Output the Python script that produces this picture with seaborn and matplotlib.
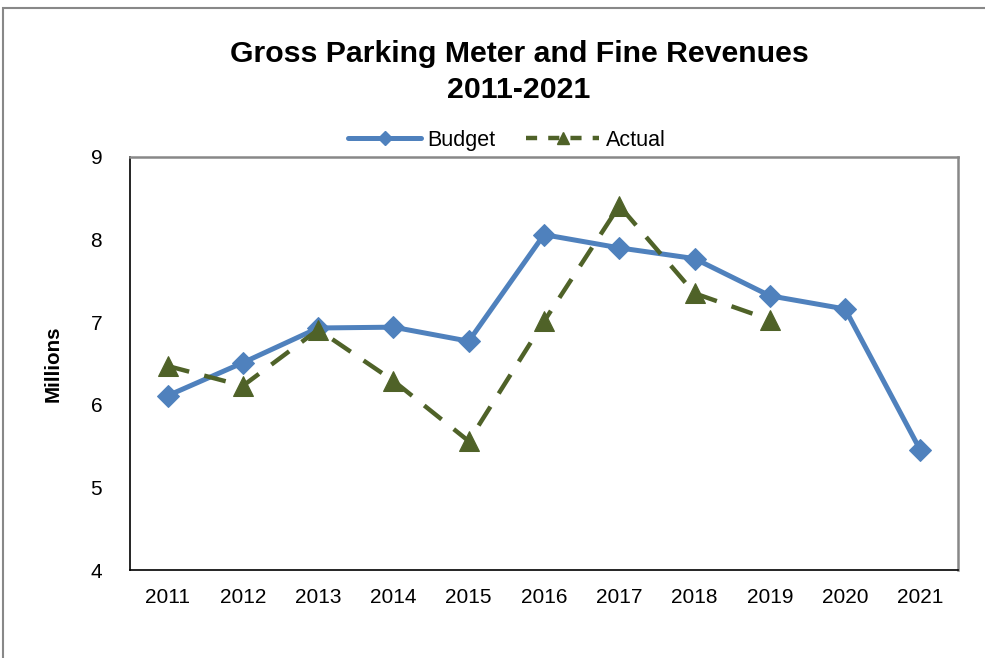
import matplotlib.pyplot as plt
from matplotlib.lines import Line2D
import numpy as np
import pandas as pd
import seaborn as sns

sns.set_style('white')
plt.rcParams['font.family'] = ['Liberation Sans', 'DejaVu Sans']
plt.rcParams['text.color'] = 'black'
plt.rcParams['axes.labelcolor'] = 'black'
plt.rcParams['xtick.color'] = 'black'
plt.rcParams['ytick.color'] = 'black'

## chart values
years = ['2011', '2012', '2013', '2014', '2015', '2016', '2017', '2018', '2019', '2020', '2021']
budget = [6.11, 6.51, 6.93, 6.94, 6.77, 8.06, 7.90, 7.77, 7.32, 7.16, 5.45]
actual = [6.47, 6.23, 6.91, 6.29, 5.56, 7.01, 8.41, 7.35, 7.03, np.nan, np.nan]

budget_color = '#4F81BD'
actual_color = '#4F6228'
dash = (0, (5, 3.5))

data = pd.DataFrame({'Year': years, 'Budget': budget, 'Actual': actual})
data['pos'] = range(len(years))

fig = plt.figure(figsize=(9.85, 6.58), dpi=100)
ax = fig.add_axes([0.132, 0.1337, 0.8406, 0.6277])

## Budget series
sns.lineplot(data=data, x='pos', y='Budget', ax=ax, color=budget_color, linewidth=3.6,
             marker='D', markersize=11, markeredgecolor=budget_color, legend=False)

## Actual series
act = data.dropna(subset=['Actual'])
sns.lineplot(data=act, x='pos', y='Actual', ax=ax, color=actual_color, linewidth=3.2,
             linestyle=dash, marker='^', markersize=14,
             markeredgecolor=actual_color, legend=False)

ax.set_xlim(-0.5, len(years) - 0.5)
ax.set_ylim(4, 9)
ax.set_yticks([4, 5, 6, 7, 8, 9])
ax.set_xticks(data['pos'])
ax.set_xticklabels(years)
ax.set_xticks(np.arange(-0.5, len(years), 1), minor=True)
ax.tick_params(axis='x', which='major', length=0, labelsize=15, pad=13)
ax.tick_params(axis='x', which='minor', length=6, width=1, direction='out')
ax.tick_params(axis='y', length=6, width=1, direction='out', labelsize=15, pad=14)
ax.set_xlabel('')
ax.set_ylabel('Millions', fontsize=14.8, fontweight='bold', labelpad=20)

for side in ['left', 'bottom']:
    ax.spines[side].set_color('black')
    ax.spines[side].set_linewidth(1.2)
for side in ['top', 'right']:
    ax.spines[side].set_color('#888888')
    ax.spines[side].set_linewidth(1.8)

handles = [
    Line2D([], [], color=budget_color, linewidth=3.6, marker='D', markersize=7),
    Line2D([], [], color=actual_color, linewidth=3.2, linestyle=(0, (2.5, 2.5)), marker='^', markersize=8),
]
ax.legend(handles, ['Budget', 'Actual'], loc='lower center', bbox_to_anchor=(0.455, 0.968), ncol=2,
          frameon=False, fontsize=15.5, handlelength=3.4, columnspacing=1.4, handletextpad=0.3)

fig.text(0.527, 0.891, 'Gross Parking Meter and Fine Revenues\n2011-2021', ha='center', va='center',
         fontsize=21.8, fontweight='bold', linespacing=1.36)

## outer chart border
border = plt.Rectangle((0.003, -0.01), 1.2, 0.998, transform=fig.transFigure, fill=False,
                       edgecolor='#888888', linewidth=1.5)
fig.patches.append(border)

fig.savefig('out.png', dpi=100)
